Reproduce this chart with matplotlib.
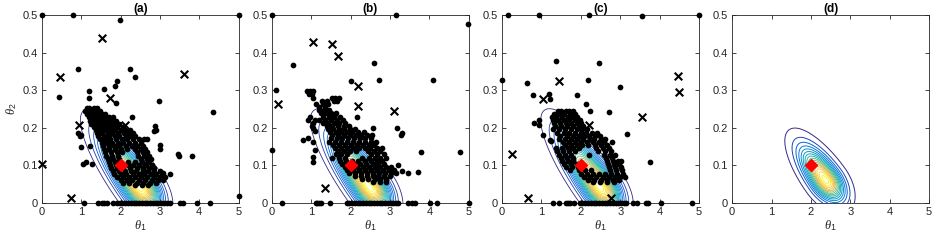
import numpy as np
import matplotlib
matplotlib.use("Agg")
import matplotlib.pyplot as plt
from matplotlib.colors import LinearSegmentedColormap

plt.rcParams['font.family'] = ['Liberation Sans', 'DejaVu Sans']
plt.rcParams['mathtext.fontset'] = 'custom'
plt.rcParams['mathtext.it'] = 'Liberation Serif:italic'
plt.rcParams['mathtext.rm'] = 'Liberation Sans'

titles = ["(a)", "(b)", "(c)", "(d)"]
xticks = [0, 1, 2, 3, 4, 5]
yticks = [0, 0.1, 0.2, 0.3, 0.4, 0.5]
ytick_labels = ["0", "0.1", "0.2", "0.3", "0.4", "0.5"]
true_theta = (2.0, 0.1)

# ---------------- panel (a) ----------------
a_rows_y = [0.252, 0.244, 0.236, 0.228, 0.219, 0.211, 0.202, 0.194, 0.186, 0.177,
            0.169, 0.160, 0.152, 0.143, 0.135, 0.126, 0.118, 0.109, 0.101, 0.093,
            0.085, 0.077, 0.069, 0.061, 0.053, 0.047]
a_rows_x = [[1.14, 1.21, 1.33, 1.41],
            [1.11, 1.19, 1.29, 1.36, 1.48],
            [1.16, 1.24, 1.33, 1.45, 1.52, 1.61],
            [1.19, 1.30, 1.37, 1.47, 1.60, 1.72, 1.80],
            [1.23, 1.31, 1.43, 1.54, 1.62, 1.77, 1.88],
            [1.26, 1.38, 1.47, 1.60, 1.71, 1.83, 1.97],
            [1.33, 1.42, 1.56, 1.66, 1.79, 1.92, 2.06],
            [1.37, 1.51, 1.60, 1.74, 1.87, 2.02, 2.12, 2.24],
            [1.41, 1.53, 1.68, 1.79, 1.93, 2.08, 2.20, 2.32],
            [1.44, 1.57, 1.71, 1.86, 1.97, 2.13, 2.27, 2.38],
            [1.47, 1.60, 1.74, 1.88, 2.03, 2.16, 2.31, 2.46],
            [1.52, 1.65, 1.79, 1.94, 2.07, 2.22, 2.36, 2.51],
            [1.55, 1.70, 1.83, 1.97, 2.13, 2.28, 2.43, 2.56],
            [1.58, 1.72, 1.86, 2.01, 2.17, 2.37, 2.52, 2.62],
            [1.61, 1.76, 1.90, 2.05, 2.41, 2.57, 2.68],
            [1.64, 1.78, 1.93, 2.45, 2.60, 2.72],
            [1.67, 1.82, 1.96, 2.51, 2.66, 2.78],
            [1.71, 1.85, 2.19, 2.36, 2.55, 2.71],
            [1.74, 1.88, 2.20, 2.31, 2.47, 2.62, 2.80],
            [1.77, 1.90, 2.06, 2.24, 2.42, 2.58, 2.73, 2.86],
            [1.80, 1.95, 2.11, 2.26, 2.40, 2.56, 2.70, 2.85, 3.01],
            [1.84, 2.00, 2.14, 2.31, 2.46, 2.60, 2.77, 2.91, 3.06],
            [1.92, 2.07, 2.22, 2.37, 2.52, 2.68, 2.84, 2.99, 3.12],
            [2.01, 2.16, 2.30, 2.47, 2.62, 2.79, 2.95, 3.09],
            [2.07, 2.22, 2.41, 2.58, 2.76, 2.90],
            [2.38, 2.55, 2.71]]
a_sparse_x = [0.0, 0.79, 5.0, 1.99, 0.93, 2.25, 2.38, 1.92, 1.86, 1.57, 0.43, 2.97,
              1.89, 1.19, 1.21, 4.35, 2.29, 2.88, 2.91, 2.84, 0.93, 0.97, 0.99, 1.0,
              1.23, 3.0, 3.0, 3.81, 3.47, 3.49, 1.04, 1.12, 1.27, 3.07, 3.25, 5.0,
              2.6, 2.68]
a_sparse_y = [0.5, 0.5, 0.5, 0.488, 0.356, 0.356, 0.334, 0.324, 0.31, 0.303, 0.282, 0.27,
              0.266, 0.297, 0.279, 0.242, 0.229, 0.206, 0.195, 0.192, 0.185, 0.177, 0.182, 0.15,
              0.152, 0.155, 0.144, 0.124, 0.13, 0.124, 0.104, 0.108, 0.104, 0.08, 0.077, 0.018,
              0.17, 0.17]
a_floor_x = [1.08, 1.44, 1.52, 1.57, 1.65, 1.82, 1.90, 1.99, 2.05, 2.12, 2.19, 2.26,
             2.33, 2.40, 2.47, 2.54, 2.61, 2.68, 2.75, 2.82, 2.89, 2.96, 3.03, 3.10,
             3.17, 3.26, 3.52, 3.58, 3.94, 4.28]
a_cross_x = [0.0, 0.47, 1.53, 1.74, 0.95, 0.75, 3.62, 2.12, 2.67]
a_cross_y = [0.104, 0.335, 0.44, 0.279, 0.208, 0.013, 0.344, 0.207, 0.101]

# ---------------- panel (b) ----------------
b_rows_y = [0.297, 0.289, 0.280, 0.272, 0.264, 0.256, 0.247, 0.239, 0.230, 0.222,
            0.214, 0.205, 0.197, 0.188, 0.180, 0.172, 0.163, 0.155, 0.146, 0.138,
            0.129, 0.121, 0.112, 0.104, 0.096, 0.088, 0.080, 0.072, 0.064, 0.056,
            0.049]
b_rows_x = [[0.90, 0.98, 1.05],
            [0.94, 1.03],
            [1.06, 1.52, 1.61, 1.71],
            [1.27, 1.40, 1.58, 1.66],
            [1.12, 1.31, 1.44],
            [1.19, 1.36],
            [1.21, 1.33, 1.45],
            [1.26, 1.39, 1.51, 1.64],
            [0.96, 1.30, 1.46, 1.59, 1.73],
            [0.91, 1.09, 1.21, 1.36, 1.51, 1.66, 1.81],
            [1.04, 1.31, 1.44, 1.57, 1.70, 1.85],
            [1.01, 1.40, 1.54, 1.69, 1.83, 1.97],
            [1.42, 1.56, 1.70, 1.84, 1.98, 2.12],
            [1.48, 1.63, 1.77, 1.91, 2.05, 2.19, 2.33],
            [1.54, 1.69, 1.83, 1.98, 2.13, 2.27, 2.41, 2.54],
            [1.51, 1.66, 1.79, 1.94, 2.09, 2.24, 2.38, 2.53],
            [1.46, 1.61, 1.76, 1.91, 2.06, 2.21, 2.36, 2.51, 2.64],
            [1.56, 1.71, 1.86, 2.01, 2.16, 2.31, 2.46, 2.60],
            [1.61, 1.76, 1.91, 2.06, 2.21, 2.36, 2.50, 2.66, 2.79],
            [1.69, 1.84, 1.99, 2.14, 2.44, 2.59, 2.74],
            [1.62, 1.76, 1.91, 2.53, 2.68, 2.84],
            [1.52, 1.71, 1.86, 2.29, 2.46, 2.61, 2.76, 2.90],
            [1.74, 1.89, 2.04, 2.19, 2.36, 2.51, 2.66, 2.81],
            [1.78, 1.93, 2.08, 2.23, 2.40, 2.56, 2.71, 2.86],
            [1.86, 2.01, 2.16, 2.31, 2.46, 2.61, 2.76, 2.91, 3.04],
            [1.92, 2.07, 2.22, 2.37, 2.52, 2.67, 2.82, 2.97, 3.10],
            [1.97, 2.12, 2.27, 2.42, 2.57, 2.72, 2.87, 3.02, 3.15],
            [2.11, 2.26, 2.41, 2.56, 2.71, 2.86, 3.00],
            [2.29, 2.44, 2.61, 2.76, 2.91],
            [2.58, 2.74, 2.89]]
b_rows_y = b_rows_y[:len(b_rows_x)]
b_sparse_x = [0.0, 3.15, 4.97, 0.55, 0.11, 0.0, 2.6, 2.72, 2.0, 4.09, 2.16, 3.17,
              2.56, 3.3, 3.27, 3.2, 3.31, 3.45, 3.72, 3.79, 4.78, 1.04, 1.11,
              0.8, 0.92, 1.05, 1.1, 1.05, 1.05, 5.0]
b_sparse_y = [0.5, 0.5, 0.476, 0.366, 0.301, 0.142, 0.372, 0.328, 0.325, 0.328, 0.23, 0.2,
              0.2, 0.186, 0.182, 0.1, 0.086, 0.08, 0.082, 0.135, 0.135, 0.2, 0.192,
              0.167, 0.172, 0.163, 0.141, 0.123, 0.11, 0.0]
b_floor_x = [0.27, 1.12, 1.16, 1.20, 1.25, 1.48, 1.90, 1.97, 2.04, 2.11, 2.18, 2.25,
             2.32, 2.39, 2.46, 2.53, 2.60, 2.67, 2.74, 2.81, 2.88, 2.95, 3.02, 3.09,
             3.15, 3.21, 3.47, 3.55, 3.64, 4.02, 4.20]
b_cross_x = [1.04, 1.52, 1.67, 0.17, 2.2, 2.2, 3.11, 1.35]
b_cross_y = [0.427, 0.424, 0.392, 0.264, 0.31, 0.257, 0.246, 0.04]

# ---------------- panel (c) ----------------
c_rows_y = [0.246, 0.238, 0.229, 0.221, 0.213, 0.204, 0.196, 0.187, 0.179, 0.170,
            0.162, 0.154, 0.145, 0.137, 0.128, 0.120, 0.112, 0.103, 0.095, 0.087,
            0.078, 0.070, 0.062, 0.055]
c_rows_x = [[1.41, 1.49, 1.62, 1.71, 1.79],
            [1.31, 1.44, 1.58, 1.73, 1.86],
            [1.26, 1.37, 1.51, 1.67, 1.79, 1.91],
            [1.29, 1.41, 1.56, 1.69, 1.84, 1.97],
            [1.31, 1.46, 1.61, 1.74, 1.89, 2.01],
            [1.34, 1.49, 1.64, 1.81, 1.94, 2.06],
            [1.29, 1.44, 1.59, 1.76, 1.91, 2.04, 2.16],
            [1.39, 1.56, 1.71, 1.86, 2.01, 2.14, 2.29, 2.41],
            [1.48, 1.64, 1.79, 1.94, 2.09, 2.21, 2.36, 2.49],
            [1.44, 1.59, 1.76, 1.91, 2.06, 2.22, 2.34, 2.51, 2.61],
            [1.54, 1.69, 1.84, 1.99, 2.16, 2.31, 2.46, 2.59],
            [1.59, 1.74, 1.89, 2.04, 2.19, 2.36, 2.51, 2.66],
            [1.36, 1.51, 1.66, 1.81, 1.96, 2.39, 2.56, 2.71],
            [1.39, 1.54, 1.69, 1.86, 2.44, 2.61, 2.76],
            [1.44, 1.59, 1.76, 2.21, 2.59, 2.74, 2.86],
            [1.49, 1.64, 1.79, 2.64, 2.79],
            [1.52, 1.66, 1.81, 2.66, 2.81, 2.94],
            [1.58, 1.74, 1.89, 2.04, 2.69, 2.84, 2.97],
            [1.62, 1.78, 1.93, 2.71, 2.86, 3.01],
            [1.72, 1.96, 2.11, 2.26, 2.74, 2.89, 3.04],
            [2.01, 2.16, 2.31, 2.46, 2.61, 2.76, 2.91, 3.06],
            [2.09, 2.24, 2.39, 2.56, 2.71, 2.86, 2.99, 3.11],
            [2.19, 2.34, 2.51, 2.66, 2.81, 2.96],
            [2.31, 2.49, 2.66, 2.83]]
c_sparse_x = [0.16, 0.93, 2.2, 3.55, 5.0, 0.0, 1.38, 2.46, 0.62, 2.18, 3.0, 0.79,
              1.91, 1.2, 1.21, 2.12, 2.22, 2.71, 3.16, 3.76, 0.81, 0.94, 0.94, 1.03,
              1.21, 1.25, 2.79, 3.02]
c_sparse_y = [0.5, 0.5, 0.5, 0.498, 0.5, 0.328, 0.377, 0.372, 0.319, 0.328, 0.308, 0.286,
              0.286, 0.29, 0.277, 0.263, 0.246, 0.241, 0.184, 0.108, 0.213, 0.208, 0.22, 0.182,
              0.168, 0.164, 0.161, 0.113]
c_floor_x = [1.28, 1.44, 1.62, 1.68, 1.72, 1.83, 1.97, 2.04, 2.11, 2.18, 2.25, 2.32,
             2.39, 2.46, 2.53, 2.60, 2.67, 2.74, 2.81, 2.88, 2.95, 3.02, 3.09, 3.15,
             3.32, 3.42, 3.64, 3.71, 4.03, 4.83]
c_cross_x = [0.26, 0.65, 1.04, 1.45, 2.2, 3.54, 4.47, 4.49, 2.77]
c_cross_y = [0.13, 0.012, 0.277, 0.325, 0.208, 0.228, 0.339, 0.295, 0.013]

# ---------------- density contour shapes (peak, axis direction, spreads) ----------------
abc_peak = (2.5, 0.04)
abc_spread = (0.95, 0.42, 0.25)   # up-left, down-right, across (theta2 scaled x10)
d_peak = (2.38, 0.06)
d_spread = (0.62, 0.38, 0.22)
axis_dir = (0.565, -0.827)

parula = LinearSegmentedColormap.from_list(
    "parula", ["#352A87", "#0363E1", "#1485D4", "#06A7C6", "#38B99E",
               "#92BF73", "#D9BA56", "#FCCE2E", "#F9FB0E"])


def density(peak, spread):
    g1 = np.linspace(0, 5, 400)
    g2 = np.linspace(0, 0.5, 400)
    T1, T2 = np.meshgrid(g1, g2)
    s1 = T1 - peak[0]
    s2 = 10 * (T2 - peak[1])
    ex, ey = axis_dir
    u = s1 * ex + s2 * ey
    v = s1 * (-ey) + s2 * ex
    su = np.where(u > 0, spread[1], spread[0])
    return T1, T2, np.exp(-0.5 * ((u / su) ** 2 + (v / spread[2]) ** 2))


def expand(rows_y, rows_x):
    xs, ys = [], []
    for yv, row in zip(rows_y, rows_x):
        xs += list(row)
        ys += [yv] * len(row)
    return xs, ys


fig = plt.figure(figsize=(9.35, 2.43), dpi=100)
lefts = [0.0446, 0.2906, 0.537, 0.783]
w, h, b = 0.2107, 0.7737, 0.1646

panels = [
    (a_rows_y, a_rows_x, a_sparse_x, a_sparse_y, a_floor_x, a_cross_x, a_cross_y),
    (b_rows_y, b_rows_x, b_sparse_x, b_sparse_y, b_floor_x, b_cross_x, b_cross_y),
    (c_rows_y, c_rows_x, c_sparse_x, c_sparse_y, c_floor_x, c_cross_x, c_cross_y),
    None,
]

gray = (0.15, 0.15, 0.15)
for i, (left, title, pdata) in enumerate(zip(lefts, titles, panels)):
    ax = fig.add_axes([left, b, w, h])
    if pdata is not None:
        T1, T2, Z = density(abc_peak, abc_spread)
        ax.contour(T1, T2, Z, levels=np.linspace(0.03, 0.97, 22), cmap=parula,
                   linewidths=0.6, zorder=1)
        ry, rx, sx, sy, fx, cx, cy = pdata
        xs, ys = expand(ry, rx)
        xs += list(sx) + list(fx)
        ys += list(sy) + [0.0] * len(fx)
        ax.scatter(xs, ys, s=17, c='black', marker='o', linewidths=0, zorder=3,
                   clip_on=False)
        ax.scatter(cx, cy, s=30, c='black', marker='x', linewidths=1.5, zorder=4,
                   clip_on=False)
    else:
        T1, T2, Z = density(d_peak, d_spread)
        ax.contour(T1, T2, Z, levels=np.linspace(0.03, 0.97, 16), cmap=parula,
                   linewidths=0.7, zorder=1)
    ax.plot([true_theta[0]], [true_theta[1]], marker='D', color='red',
            markersize=6.5, zorder=5, clip_on=False)
    ax.set_xlim(0, 5)
    ax.set_ylim(0, 0.5)
    ax.set_xticks(xticks)
    ax.set_yticks(yticks)
    ax.set_yticklabels(ytick_labels)
    ax.tick_params(direction='in', length=3, width=0.6, top=True, right=True,
                   labelsize=8, colors=gray, pad=3)
    for sp in ax.spines.values():
        sp.set_color(gray)
        sp.set_linewidth(0.6)
    ax.set_title(title, fontsize=8.5, fontweight='bold', pad=2)
    ax.set_xlabel(r'$\theta_1$', fontsize=9, labelpad=1, color=gray)
    if i == 0:
        ax.set_ylabel(r'$\theta_2$', fontsize=9, labelpad=2, color=gray)

fig.savefig("out.png", dpi=100)
